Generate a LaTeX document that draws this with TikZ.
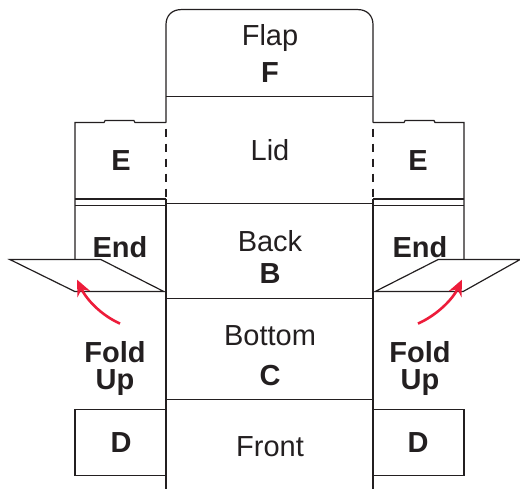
\documentclass[tikz,border=0pt]{standalone}
\usepackage{fontspec}
\setmainfont{Liberation Sans}
\definecolor{ink}{HTML}{231F20}
\definecolor{foldred}{HTML}{ED1C3A}
\usetikzlibrary{arrows.meta}
\tikzset{
  panel/.style={draw=ink,line width=1.2pt,line join=miter},
  dashline/.style={draw=ink,line width=1.2pt,dash pattern=on 8.5pt off 6.5pt},
  reg/.style={text=ink,anchor=base,font=\fontsize{29}{29}\selectfont,inner sep=0pt},
  bld/.style={text=ink,anchor=base,font=\fontsize{29}{29}\selectfont\bfseries,inner sep=0pt},
  foldarrow/.style={draw=foldred,line width=2.6pt,-{Stealth[length=16pt,width=14pt]}}
}
\begin{document}
\begin{tikzpicture}[x=1pt,y=-1pt]
\useasboundingbox (0,0) rectangle (520,489);
\begin{scope}[yshift=-0.6pt]
% central panel
\path[panel] (166,489) -- (166,198);
\path[panel] (166,122) -- (166,24) .. controls (166,15) and (172,9) .. (181,9) -- (358,9) .. controls (367,9) and (373,15) .. (373,24) -- (373,122);
\path[panel] (373,198) -- (373,489);
\foreach \yy in {96,203,298,399}{\path[panel] (166,\yy) -- (373,\yy);}
\path[dashline] (166,128) -- (166,198);
\path[dashline] (373,128) -- (373,198);
% left end flaps
\path[panel] (75,259) -- (75,122) -- (104,122) -- (105,120) -- (134,120) -- (135,122) -- (166,122);
\path[panel] (75,198.5) -- (166,198.5);
\path[panel] (75,205) -- (166,205);
\path[panel] (166,409) -- (75,409) -- (75,475) -- (166,475);
% right end flaps
\path[panel] (464,259) -- (464,122) -- (435,122) -- (434,120) -- (405,120) -- (404,122) -- (373,122);
\path[panel] (373,198.5) -- (464,198.5);
\path[panel] (373,205) -- (464,205);
\path[panel] (373,409) -- (464,409) -- (464,475) -- (373,475);
% folded parallelograms
\path[panel] (101,259) -- (10,259) -- (75,291) -- (164,291) -- cycle;
\path[panel] (438,259) -- (520,259) -- (463,291) -- (375,291) -- cycle;
% labels
\node[reg] (flap) at (270,45) {Flap};
\node[bld] (f) at (270,82) {F};
\node[reg] (lid) at (270,160) {Lid};
\node[reg] (back) at (270,251) {Back};
\node[bld] (b) at (270,283) {B};
\node[reg] (bottom) at (270,345) {Bottom};
\node[bld] (c) at (270,385) {C};
\node[reg] (front) at (270,456) {Front};
\node[bld] (el) at (121,170) {E};
\node[bld] (er) at (418,170) {E};
\node[bld] (endl) at (120,257) {End};
\node[bld] (endr) at (420,257) {End};
\node[bld] (foldl) at (115,362) {Fold};
\node[bld] (upl) at (115,389) {Up};
\node[bld] (foldr) at (420,362) {Fold};
\node[bld] (upr) at (420,389) {Up};
\node[bld] (dl) at (121,452) {D};
\node[bld] (dr) at (418,452) {D};
% arrows
\coordinate (als) at (120,323);
\coordinate (ale) at (77,279);
\coordinate (ars) at (418,323);
\coordinate (are) at (462,279);
\draw[foldarrow] (als) .. controls (100,314) and (86,298) .. (ale);
\draw[foldarrow] (ars) .. controls (438,314) and (453,298) .. (are);
\end{scope}
\end{tikzpicture}
\end{document}
